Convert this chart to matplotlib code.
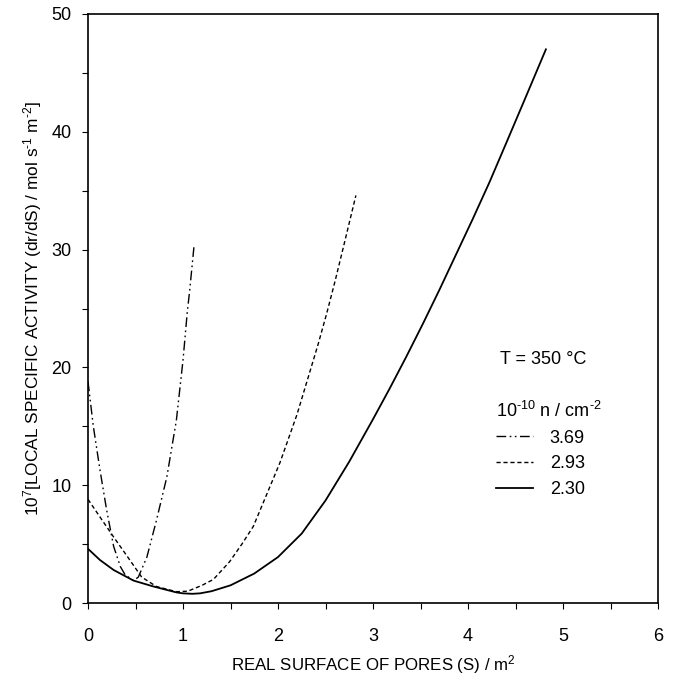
import numpy as np
import matplotlib.pyplot as plt
from matplotlib.ticker import MultipleLocator

plt.rcParams['font.family'] = ['Liberation Sans', 'DejaVu Sans']
plt.rcParams['mathtext.fontset'] = 'custom'
plt.rcParams['mathtext.rm'] = 'Liberation Sans'
plt.rcParams['mathtext.it'] = 'Liberation Sans'
plt.rcParams['mathtext.default'] = 'regular'

# n = 3.69e10 cm^-2 (dash-dot-dot)
s_369 = [0.0, 0.056, 0.126, 0.196, 0.27, 0.34, 0.39, 0.48, 0.53, 0.62, 0.72, 0.83, 0.93, 1.0, 1.045, 1.07, 1.116]
a_369 = [18.8, 15.0, 11.3, 7.9, 4.8, 3.1, 2.4, 1.9, 2.2, 3.9, 7.0, 10.7, 15.5, 20.6, 24.7, 26.5, 30.3]

# n = 2.93e10 cm^-2 (dashed)
s_293 = [0.0, 0.126, 0.27, 0.44, 0.565, 0.72, 0.93, 1.05, 1.2, 1.32, 1.49, 1.62, 1.74, 1.88, 2.02,
         2.2, 2.42, 2.51, 2.6, 2.7, 2.82]
a_293 = [8.8, 7.3, 5.6, 3.65, 2.2, 1.4, 0.96, 1.0, 1.5, 2.0, 3.5, 5.0, 6.5, 9.2, 11.9,
         16.0, 21.9, 24.5, 27.3, 30.6, 34.6]

# n = 2.30e10 cm^-2 (solid)
s_230 = [0.0, 0.126, 0.27, 0.48, 0.69, 0.93, 1.0, 1.1, 1.18, 1.3, 1.5, 1.75, 2.0, 2.25, 2.5, 2.75, 3.0,
         3.175, 3.35, 3.525, 3.7, 3.875, 4.05, 4.225, 4.4, 4.6, 4.82]
a_230 = [4.6, 3.65, 2.8, 1.9, 1.4, 0.9, 0.82, 0.78, 0.82, 1.0, 1.5, 2.5, 3.9, 5.9, 8.7, 12.0, 15.6,
         18.2, 20.9, 23.7, 26.6, 29.6, 32.6, 35.7, 39.0, 42.8, 47.0]

series_labels = ["3.69", "2.93", "2.30"]

fig = plt.figure(figsize=(6.75, 6.77), dpi=100)
ax = fig.add_axes([88 / 675, 74 / 677, 570 / 675, 589 / 677])

ax.plot(s_369, a_369, color="black", lw=1.0, dashes=(7, 2.5, 1.2, 2.5, 1.2, 2.5), label=series_labels[0])
ax.plot(s_293, a_293, color="black", lw=1.0, dashes=(3, 2), label=series_labels[1])
ax.plot(s_230, a_230, color="black", lw=1.3, label=series_labels[2])

ax.set_xlim(0, 6)
ax.set_ylim(0, 50)
ax.xaxis.set_major_locator(MultipleLocator(1))
ax.xaxis.set_minor_locator(MultipleLocator(0.5))
ax.yaxis.set_major_locator(MultipleLocator(10))
ax.yaxis.set_minor_locator(MultipleLocator(5))
ax.tick_params(which="both", direction="out", length=4, width=0.8, labelsize=13)
ax.tick_params(axis="x", which="major", pad=14)
ax.tick_params(axis="y", which="major", pad=8)
for sp in ax.spines.values():
    sp.set_linewidth(1.2)

ax.set_xlabel("REAL SURFACE OF PORES (S) / m$^{2}$", fontsize=12.2, labelpad=6)
ax.set_ylabel(r"10$^{7}$[LOCAL SPECIFIC ACTIVITY (dr/dS) / mol s$^{\text{-}1}$ m$^{\text{-}2}$]",
              fontsize=12.4, labelpad=5)

ax.text(0.723, 0.414, "T = 350 °C", transform=ax.transAxes, fontsize=13, va="center", ha="left")
ax.legend(loc="upper left", bbox_to_anchor=(0.715, 0.343), frameon=False, fontsize=13,
          title=r"10$^{\text{-}10}$ n / cm$^{\text{-}2}$", title_fontsize=13, alignment="left",
          handlelength=2.1, handletextpad=0.9, labelspacing=0.48, borderpad=0, borderaxespad=0)

fig.savefig("out.png", dpi=100)
